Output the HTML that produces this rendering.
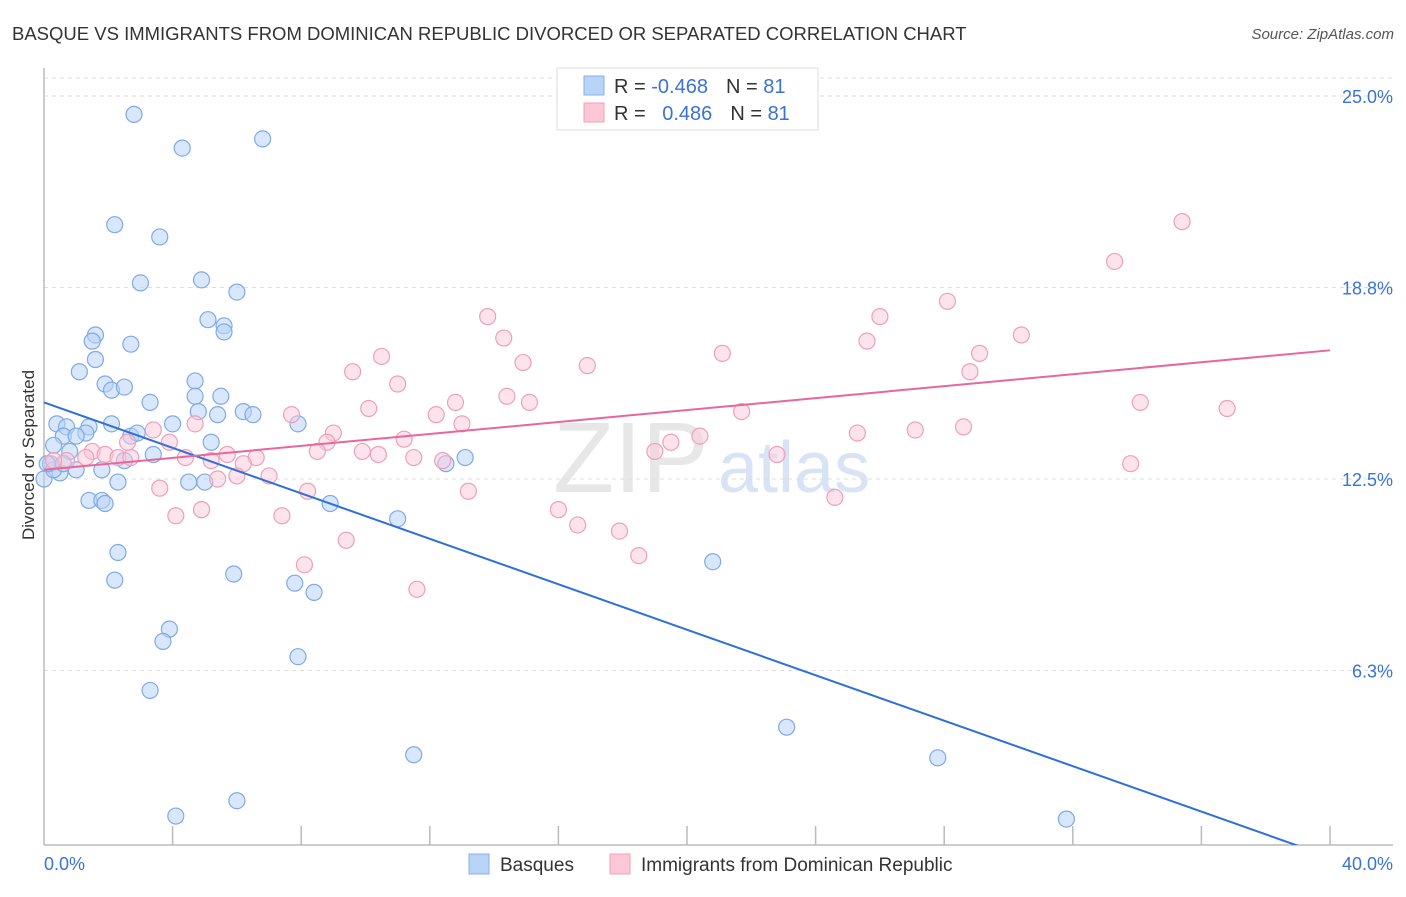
<!DOCTYPE html>
<html><head><meta charset="utf-8"><style>
body{margin:0;background:#fff;font-family:"Liberation Sans",sans-serif;}
svg text{font-family:"Liberation Sans",sans-serif;}
</style></head><body>
<svg id="chart" width="1406" height="892" xmlns="http://www.w3.org/2000/svg">
<text x="12" y="40" font-size="18.5" fill="#333">BASQUE VS IMMIGRANTS FROM DOMINICAN REPUBLIC DIVORCED OR SEPARATED CORRELATION CHART</text>
<text x="1394" y="39" font-size="15" fill="#555" text-anchor="end" font-style="italic">Source: ZipAtlas.com</text>
<text transform="translate(34,455) rotate(-90)" font-size="17" fill="#333" text-anchor="middle">Divorced or Separated</text>
<g>
<text x="553" y="492" font-size="100" fill="#ddd" font-family="Liberation Serif" opacity="0.7">ZIP</text>
<text x="718" y="492" font-size="72" fill="#c8daf2" opacity="0.7">atlas</text>
</g>
<g id="grid"></g>
<g id="axes"></g>
<g id="pts" clip-path="url(#cp)"></g>
<defs><clipPath id="cp"><rect x="30" y="60" width="1370" height="785"/></clipPath></defs>
<g id="lines" clip-path="url(#cp)"></g>
<g>
<rect x="557" y="68" width="261" height="62" fill="#fff" stroke="#ddd"/>
<rect x="584" y="76" width="20" height="19" fill="#b8d4f7" stroke="#8ab0e8"/>
<rect x="584" y="103" width="20" height="19" fill="#fcc8d7" stroke="#f0a0b8"/>
<text x="614" y="93" font-size="20" fill="#333">R = <tspan fill="#3a72d8">-0.468</tspan><tspan dx="18">N = </tspan><tspan fill="#3a72d8">81</tspan></text>
<text x="614" y="120" font-size="20" fill="#333">R = <tspan fill="#3a72d8" dx="11">0.486</tspan><tspan dx="18">N = </tspan><tspan fill="#3a72d8">81</tspan></text>
</g>
<g>
<rect x="469" y="854" width="20" height="20" fill="#b8d4f7" stroke="#8ab0e8"/>
<text x="500" y="871" font-size="19" fill="#333">Basques</text>
<rect x="610" y="854" width="20" height="20" fill="#fcc8d7" stroke="#f0a0b8"/>
<text x="641" y="871" font-size="19" fill="#333">Immigrants from Dominican Republic</text>
</g>
</svg>
<script>
const yTicks=[25,18.75,12.5,6.25];
const yTickLabels=["25.0%","18.8%","12.5%","6.3%"];
const xTicks=[4,8,12,16,20,24,28,32,36,40];
const blueX=[2.8,4.3,6.8,2.2,3.6,3.0,4.9,6.0,5.1,5.6,5.6,1.6,1.5,2.7,1.6,1.1,1.9,2.1,2.5,4.7,4.7,5.5,3.3,5.4,4.8,6.2,6.5,2.1,4.0,7.9,0.4,0.7,1.4,1.3,0.6,1.0,2.7,2.9,0.3,5.2,3.4,0.8,2.5,12.5,13.1,0.2,0.5,1.0,1.8,2.3,4.5,5.0,0,1.4,1.8,1.9,8.9,11.0,2.3,20.8,2.2,5.9,7.8,8.4,3.9,3.7,7.9,3.3,23.1,11.5,27.8,4.1,6.0,31.8,0.3,0.1,0.6];
const blueY=[24.4,23.3,23.6,20.8,20.4,18.9,19.0,18.6,17.7,17.5,17.3,17.2,17.0,16.9,16.4,16.0,15.6,15.4,15.5,15.7,15.2,15.2,15.0,14.6,14.7,14.7,14.6,14.3,14.3,14.3,14.3,14.2,14.2,14.0,13.9,13.9,13.9,14.0,13.6,13.7,13.3,13.4,13.1,13.0,13.2,13.0,12.7,12.8,12.8,12.4,12.4,12.4,12.5,11.8,11.8,11.7,11.7,11.2,10.1,9.8,9.2,9.4,9.1,8.8,7.6,7.2,6.7,5.6,4.4,3.5,3.4,1.5,2.0,1.4,12.8,13.0,13.0];
const pinkX=[35.4,33.3,28.1,13.8,26.0,30.4,14.3,25.6,21.1,29.1,10.5,14.9,16.9,9.6,28.8,11.0,14.4,15.1,10.1,21.7,34.1,36.8,12.8,12.2,7.7,4.7,13.0,28.6,27.1,25.3,9.0,3.4,20.4,11.2,8.8,2.6,19.5,3.9,9.9,8.5,10.4,19.0,22.8,1.5,1.9,2.3,5.7,6.6,11.5,1.3,4.4,6.2,7.0,5.2,12.4,33.8,6.0,5.4,3.6,8.2,13.2,24.6,16.0,16.6,17.9,7.4,4.1,4.9,9.4,18.5,8.1,11.6,2.7,0.7,0.3];
const pinkY=[20.9,19.6,18.3,17.8,17.8,17.2,17.1,17.0,16.6,16.6,16.5,16.3,16.2,16.0,16.0,15.6,15.2,15.0,14.8,14.7,15.0,14.8,15.0,14.6,14.6,14.3,14.3,14.2,14.1,14.0,14.0,14.1,13.9,13.8,13.7,13.7,13.7,13.7,13.4,13.4,13.3,13.4,13.3,13.4,13.3,13.2,13.3,13.2,13.2,13.2,13.2,13.0,12.6,13.1,13.1,13.0,12.6,12.5,12.2,12.1,12.1,11.9,11.5,11.0,10.8,11.3,11.3,11.5,10.5,10.0,9.7,8.9,13.2,13.1,13.1];
const blueTrend=[15.0,-0.371];
const pinkTrend=[12.8,0.0975];
const NS="http://www.w3.org/2000/svg";
const X=v=>44+v/40*1286, Y=v=>862-v/25*766;
function mk(t,a,p){const e=document.createElementNS(NS,t);for(const k in a)e.setAttribute(k,a[k]);p.appendChild(e);return e;}
const grid=document.getElementById('grid'),axes=document.getElementById('axes');
let g=mk('line',{x1:44,x2:1393,y1:78,y2:78,stroke:'#ddd','stroke-dasharray':'4,4'},grid);


yTicks.forEach((t,i)=>{
 const l=mk('line',{x1:44,x2:1393,y1:Y(t),y2:Y(t),stroke:'#ddd','stroke-dasharray':'4,4'},grid);
 
 
 const tx=mk('text',{x:1393,y:Y(t)+7,'font-size':18,fill:'#3a72d8','text-anchor':'end'},axes);
 tx.textContent=yTickLabels[i];
 
 
});
let a=mk('line',{x1:44,x2:44,y1:68,y2:845,stroke:'#bbb','stroke-width':1.5},axes);


a=mk('line',{x1:44,x2:1393,y1:845,y2:845,stroke:'#bbb','stroke-width':1.5},axes);


xTicks.forEach(t=>{
 const l=mk('line',{x1:X(t),x2:X(t),y1:826,y2:845,stroke:'#bbb','stroke-width':1.5},axes);
 
 
});
let xl=mk('text',{x:44,y:870,'font-size':18,fill:'#3a72d8'},axes);xl.textContent='0.0%';


xl=mk('text',{x:1393,y:870,'font-size':18,fill:'#3a72d8','text-anchor':'end'},axes);xl.textContent='40.0%';


const pts=document.getElementById('pts');
blueX.forEach((x,i)=>{
 const c=mk('circle',{cx:X(x),cy:Y(blueY[i]),r:8,fill:'rgba(184,212,247,0.55)',stroke:'#7faae6','stroke-width':1.2},pts);
 
 
});
pinkX.forEach((x,i)=>{
 const c=mk('circle',{cx:X(x),cy:Y(pinkY[i]),r:8,fill:'rgba(252,200,215,0.5)',stroke:'#eea0b9','stroke-width':1.2},pts);
 
 
});
const lines=document.getElementById('lines');
let tl=mk('line',{x1:X(0),y1:Y(blueTrend[0]),x2:X(40),y2:Y(blueTrend[0]+blueTrend[1]*40),stroke:'#2f6fd8','stroke-width':2},lines);


tl=mk('line',{x1:X(0),y1:Y(pinkTrend[0]),x2:X(40),y2:Y(pinkTrend[0]+pinkTrend[1]*40),stroke:'#e8679a','stroke-width':2},lines);


</script>
</body></html>
